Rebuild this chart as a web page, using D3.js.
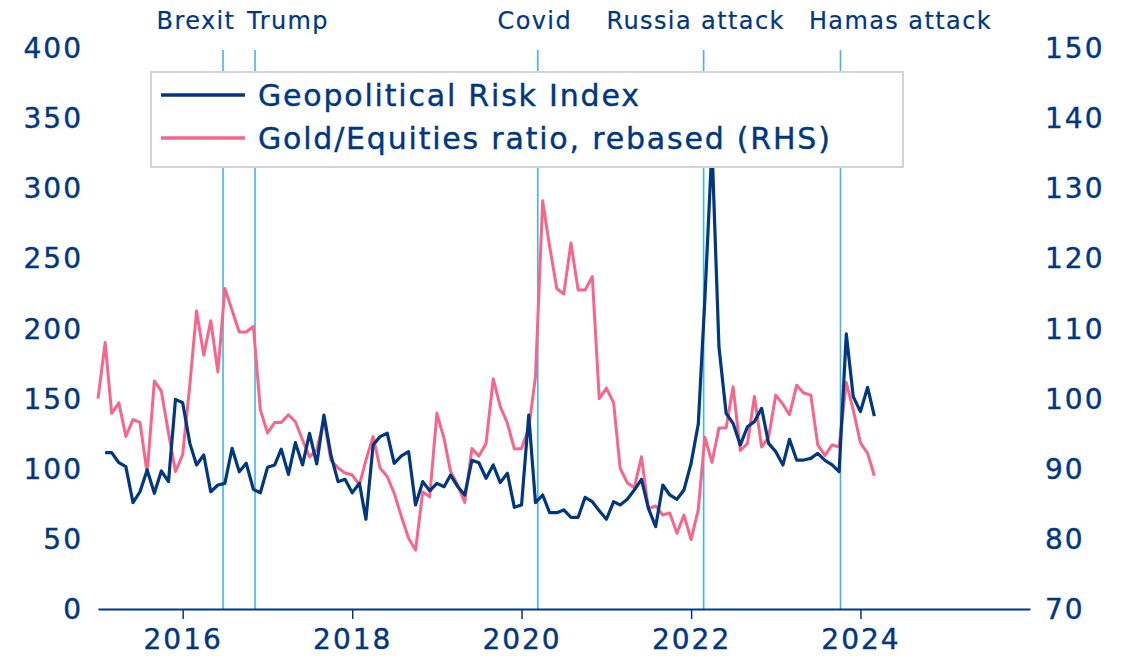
<!DOCTYPE html>
<html>
<head>
<meta charset="utf-8">
<style>
  body { margin: 0; background: #fff; }
  svg text { font-family: "DejaVu Sans", "Noto Sans", sans-serif; fill: #003781; stroke: #003781; stroke-width: 0.4px; }
</style>
</head>
<body>
<svg width="1138" height="660"></svg>
<script src="https://cdn.jsdelivr.net/npm/d3@7"></script>
<script>
// monthly series
var goldStart = "2015-01-01";
var goldEquities = [100.0, 108.0, 97.9, 99.4, 94.6, 97.0, 96.6, 89.4, 102.5, 101.1, 95.1, 89.6,
  92.0, 102.0, 112.5, 106.2, 111.1, 103.8, 115.7, 112.6, 109.5, 109.5, 110.3, 98.4,
  95.1, 96.6, 96.6, 97.7, 96.7, 94.1, 91.7, 92.7, 97.0, 91.2, 90.1, 89.4,
  89.1, 87.7, 91.2, 94.6, 90.1, 88.9, 86.5, 83.2, 80.1, 78.4, 86.7, 86.0,
  97.9, 94.3, 89.6, 87.7, 85.2, 92.9, 91.8, 93.6, 102.8, 98.9, 96.5, 92.8,
  92.9, 95.8, 103.1, 128.2, 121.7, 115.7, 114.9, 122.2, 115.5, 115.5, 117.4, 100.0,
  101.5, 99.4, 90.1, 88.0, 87.3, 91.7, 84.3, 84.7, 83.4, 83.7, 80.8, 83.4,
  79.9, 84.2, 94.5, 90.9, 95.8, 95.8, 101.7, 92.6, 93.6, 100.3, 93.1, 94.5,
  100.5, 99.2, 97.7, 101.9, 100.8, 100.5, 93.4, 91.9, 93.4, 93.1, 102.3, 98.4,
  93.7, 92.2, 89.0];

var gprStart = "2015-02-01";
var gpr = [111.5, 111.5, 104.3, 101.5, 75.8, 83.6, 99.1, 82.5, 98.4, 90.8, 149.5,
  147.1, 118.1, 102.7, 109.8, 83.6, 88.4, 89.6, 114.6, 97.9, 103.9, 85.3, 82.9,
  101.0, 102.7, 114.0, 96.0, 118.6, 102.7, 125.3, 103.4, 138.3, 109.8, 90.8, 92.5,
  82.9, 89.6, 64.0, 116.9, 122.9, 125.3, 103.9, 109.1, 112.2, 74.2, 90.8, 84.3,
  89.6, 87.2, 95.5, 87.2, 81.3, 106.0, 104.3, 93.2, 102.7, 90.1, 96.8, 72.5,
  74.2, 138.3, 75.8, 81.3, 68.7, 68.7, 70.6, 65.4, 65.4, 79.6, 76.5, 70.1,
  64.0, 76.5, 74.2, 78.2, 84.8, 92.5, 71.8, 58.7, 88.4, 81.3, 78.2, 84.8,
  103.9, 132.0, 220.0, 330.0, 187.0, 139.5, 132.4, 116.9, 130.0, 133.6, 143.1, 118.1,
  112.2, 102.7, 121.0, 106.2, 106.2, 107.4, 111.0, 106.0, 102.7, 97.9, 196.1, 151.4,
  140.7, 158.1, 137.6];

var eventNames = ["Brexit", "Trump", "Covid", "Russia attack", "Hamas attack"];
var eventDates = ["2016-06-23", "2016-11-08", "2020-03-11", "2022-02-24", "2023-10-07"];
var labelDx = [-27, 33, -3, -8, 60];

var leftTicks = [0, 50, 100, 150, 200, 250, 300, 350, 400];
var rightTicks = [70, 80, 90, 100, 110, 120, 130, 140, 150];
var yearTicks = [2016, 2018, 2020, 2022, 2024];

var seriesNames = ["Geopolitical Risk Index", "Gold/Equities ratio, rebased (RHS)"];
var navy = "#003781", pink = "#f8658a", sky = "#41b6e6";

var svg = d3.select("svg");
var parse = d3.timeParse("%Y-%m-%d");

function monthly(start, vals) {
  var s = parse(start);
  return vals.map(function(v, i) { return { date: d3.timeMonth.offset(s, i), value: v }; });
}
var goldData = monthly(goldStart, goldEquities);
var gprData = monthly(gprStart, gpr);

var x = d3.scaleTime()
    .domain([new Date(2015, 0, 1), new Date(2026, 0, 1)])
    .range([98, 1030]);
var yL = d3.scaleLinear().domain([0, 400]).range([609, 48]);
var yR = d3.scaleLinear().domain([70, 150]).range([609, 48]);

// event lines
svg.append("g").selectAll("line")
  .data(eventDates)
  .enter().append("line")
    .attr("x1", function(d) { return x(parse(d)); })
    .attr("x2", function(d) { return x(parse(d)); })
    .attr("y1", 50)
    .attr("y2", 609)
    .attr("stroke", sky)
    .attr("stroke-width", 1.6);

svg.append("g").selectAll("text")
  .data(eventNames)
  .enter().append("text")
    .attr("x", function(d, i) { return x(parse(eventDates[i])) + labelDx[i]; })
    .attr("y", 29)
    .attr("text-anchor", "middle")
    .attr("font-size", 24)
    .attr("letter-spacing", 1.4)
    .style("stroke-width", "0.2px")
    .text(function(d) { return d; });

// series
var lineL = d3.line().x(function(d) { return x(d.date); }).y(function(d) { return yL(d.value); });
var lineR = d3.line().x(function(d) { return x(d.date); }).y(function(d) { return yR(d.value); });

svg.append("path")
    .datum(goldData)
    .attr("fill", "none")
    .attr("stroke", pink)
    .attr("stroke-width", 3)
    .attr("stroke-linejoin", "round")
    .attr("d", lineR);

svg.append("path")
    .datum(gprData)
    .attr("fill", "none")
    .attr("stroke", navy)
    .attr("stroke-width", 3.2)
    .attr("stroke-linejoin", "round")
    .attr("d", lineL);

// axes
svg.append("g").selectAll("text")
  .data(leftTicks)
  .enter().append("text")
    .attr("x", 83)
    .attr("y", function(d) { return yL(d); })
    .attr("dy", "0.36em")
    .attr("text-anchor", "end")
    .attr("font-size", 28)
    .attr("letter-spacing", 2)
    .text(function(d) { return d; });

svg.append("g").selectAll("text")
  .data(rightTicks)
  .enter().append("text")
    .attr("x", 1045)
    .attr("y", function(d) { return yR(d); })
    .attr("dy", "0.36em")
    .attr("text-anchor", "start")
    .attr("font-size", 28)
    .attr("letter-spacing", 2)
    .text(function(d) { return d; });

var xAxis = svg.append("g")
    .attr("transform", "translate(0,609)")
    .call(d3.axisBottom(x)
      .tickValues(yearTicks.map(function(y) { return new Date(y, 0, 1); }))
      .tickFormat(d3.timeFormat("%Y"))
      .tickSize(10)
      .tickSizeOuter(0));
xAxis.select(".domain").attr("stroke", navy).attr("stroke-width", 2);
xAxis.selectAll(".tick line").attr("stroke", navy).attr("stroke-width", 1.5);
xAxis.selectAll(".tick text")
    .attr("fill", navy)
    .attr("font-family", "'DejaVu Sans', 'Noto Sans', sans-serif")
    .attr("font-size", 28)
    .attr("letter-spacing", 2)
    .attr("y", 20)
    .attr("dy", "0.71em");

// legend
var legend = svg.append("g");
legend.append("rect")
    .attr("x", 151).attr("y", 72)
    .attr("width", 752).attr("height", 95)
    .attr("fill", "#fff")
    .attr("stroke", "#d4d4d4")
    .attr("stroke-width", 2);

var legendRows = legend.selectAll("g.row")
  .data(seriesNames)
  .enter().append("g")
    .attr("class", "row")
    .attr("transform", function(d, i) { return "translate(0," + (95 + i * 43) + ")"; });

legendRows.append("line")
    .attr("x1", 161).attr("x2", 245)
    .attr("stroke", function(d, i) { return i ? pink : navy; })
    .attr("stroke-width", 3.5);

legendRows.append("text")
    .attr("x", 258)
    .attr("dy", "0.36em")
    .attr("font-size", 30)
    .attr("letter-spacing", 1.8)
    .text(function(d) { return d; });
</script>
</body>
</html>
